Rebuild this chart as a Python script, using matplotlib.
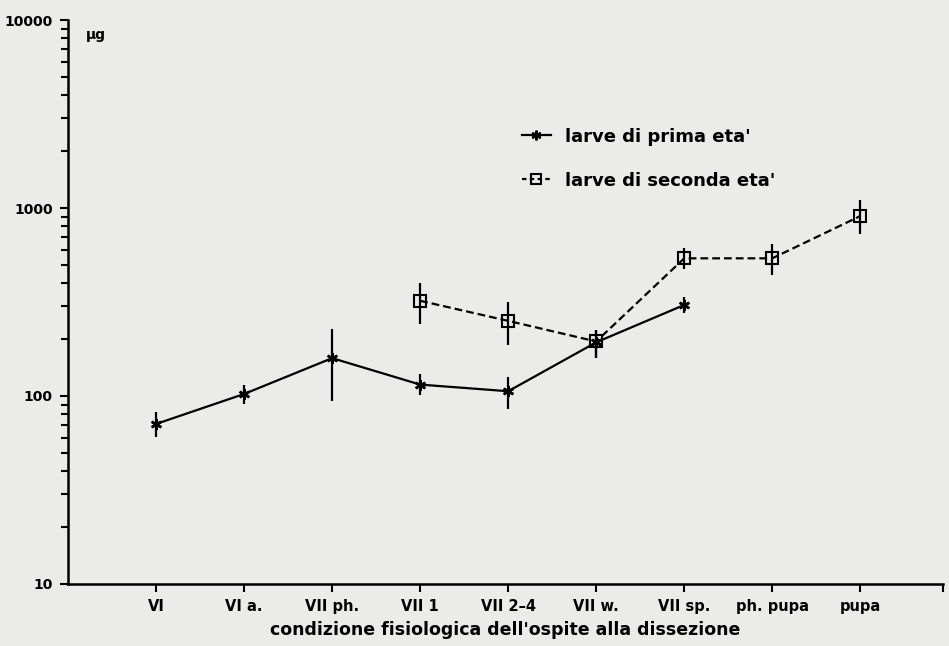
import numpy as np
import matplotlib.pyplot as plt
from matplotlib.lines import Line2D

categories = ['VI', 'VI a.', 'VII ph.', 'VII 1', 'VII 2–4', 'VII w.', 'VII sp.', 'ph. pupa', 'pupa']

# larve di prima eta' (categories 0..6)
prima_val = [71, 102.5, 159, 115, 106, 193, 305]
prima_low = [60.5, 90.6, 94.4, 101, 84.9, 159, 275]
prima_high = [82.5, 114.5, 227, 131, 125.7, 224, 337]

# larve di seconda eta' (categories 3..8)
seconda_val = [321, 251, 195, 540, 540, 906]
seconda_low = [241, 187, 159, 472, 441, 728]
seconda_high = [401, 317, 224, 612, 644, 1097]

def main():
    plt.rcParams['font.family'] = ['DejaVu Sans']
    plt.rcParams['font.weight'] = 'bold'
    bg = '#ebebe9'
    fig = plt.figure(figsize=(9.49, 6.46), dpi=100, facecolor=bg)
    ax = fig.add_axes([0.0717, 0.096, 0.922, 0.873])
    ax.set_facecolor(bg)

    x1 = np.arange(1, len(prima_val) + 1)
    x2 = np.arange(4, 4 + len(seconda_val))
    v1 = np.array(prima_val); v2 = np.array(seconda_val)
    err1 = [v1 - np.array(prima_low), np.array(prima_high) - v1]
    err2 = [v2 - np.array(seconda_low), np.array(seconda_high) - v2]

    ax.errorbar(x2, v2, yerr=err2, color='black', lw=1.6, ls=(0, (3.5, 1.8)),
                marker='s', ms=8, mfc='none', mec='black', mew=1.5,
                elinewidth=1.6, capsize=0)
    ax.errorbar(x1, v1, yerr=err1, color='black', lw=1.6, ls='-',
                marker=(6, 2, 0), ms=8, mew=1.8,
                elinewidth=1.6, capsize=0)

    ax.set_yscale('log')
    ax.set_ylim(10, 10000)
    ax.set_xlim(0, 9.94)
    ax.set_xticks(range(1, len(categories) + 1))
    ax.set_xticklabels(categories, fontsize=10.5, fontweight='bold')
    ax.set_xticks([9.94], minor=True)
    ax.set_yticks([10, 100, 1000, 10000])
    ax.set_yticklabels(['10', '100', '1000', '10000'], fontsize=10, fontweight='bold')
    ax.tick_params(axis='both', which='major', direction='out', length=6, width=1.5, pad=5)
    ax.tick_params(axis='y', which='minor', direction='out', length=5, width=1.5)
    ax.tick_params(axis='x', which='minor', direction='out', length=6, width=1.5)

    for s in ['top', 'right']:
        ax.spines[s].set_visible(False)
    for s in ['left', 'bottom']:
        ax.spines[s].set_linewidth(1.8)

    ax.set_xlabel("condizione fisiologica dell'ospite alla dissezione", fontsize=12.5,
                  fontweight='bold', labelpad=5)
    ax.text(0.02, 0.985, 'μg', transform=ax.transAxes, va='top', ha='left',
            fontsize=10, fontweight='bold')

    h1 = Line2D([], [], color='black', lw=1.6, marker=(6, 2, 0), ms=7, mew=1.6)
    h2 = Line2D([], [], color='black', lw=1.6, ls=(0, (2, 1.5)), marker='s', ms=7,
                mfc='none', mew=1.5)
    leg = ax.legend([h1, h2], ["larve di prima eta'", "larve di seconda eta'"],
                    loc='upper left', bbox_to_anchor=(0.5, 0.838), frameon=False,
                    handlelength=1.6, handletextpad=0.8, labelspacing=1.45, fontsize=13)
    for t in leg.get_texts():
        t.set_fontweight('bold')

    fig.savefig('out.png', dpi=100, facecolor=bg)

if __name__ == '__main__':
    main()
